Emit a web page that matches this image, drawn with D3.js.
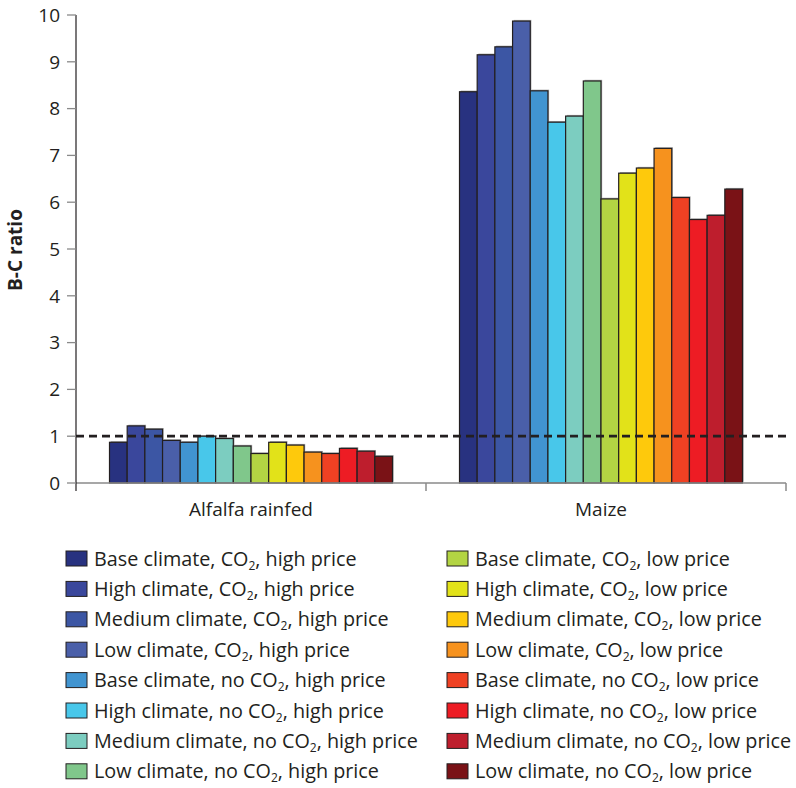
<!DOCTYPE html>
<html>
<head>
<meta charset="utf-8">
<script src="https://cdn.jsdelivr.net/npm/d3@7"></script>
<style>
  html, body { margin: 0; padding: 0; background: #fff; }
  svg text { font-family: "Open Sans", "Noto Sans", sans-serif; fill: #231f20; }
</style>
</head>
<body>
<svg id="chart" width="796" height="788"></svg>
<script>
// ---- data ----
const categories = ["Alfalfa rainfed", "Maize"];
const scenarios = [
  "Base climate, CO2, high price",
  "High climate, CO2, high price",
  "Medium climate, CO2, high price",
  "Low climate, CO2, high price",
  "Base climate, no CO2, high price",
  "High climate, no CO2, high price",
  "Medium climate, no CO2, high price",
  "Low climate, no CO2, high price",
  "Base climate, CO2, low price",
  "High climate, CO2, low price",
  "Medium climate, CO2, low price",
  "Low climate, CO2, low price",
  "Base climate, no CO2, low price",
  "High climate, no CO2, low price",
  "Medium climate, no CO2, low price",
  "Low climate, no CO2, low price"
];
const alfalfaValues = [0.87, 1.22, 1.15, 0.91, 0.87, 1.00, 0.95, 0.79, 0.63, 0.87, 0.81, 0.66, 0.63, 0.74, 0.68, 0.57];
const maizeValues   = [8.36, 9.15, 9.32, 9.87, 8.38, 7.71, 7.84, 8.59, 6.07, 6.62, 6.73, 7.15, 6.10, 5.63, 5.72, 6.28];
const colors = ["#283280", "#3a479c", "#3c56a4", "#4a5fa9", "#4194d0", "#48c7ea", "#7ccdc0", "#80c78b",
                "#b3d443", "#e2e219", "#fec90c", "#f6921e", "#ef4123", "#ed1c24", "#be1e2d", "#7a1216"];
const yTicks = [0, 1, 2, 3, 4, 5, 6, 7, 8, 9, 10];
const threshold = 1;
const yLabel = "B-C ratio";

const seriesByCategory = [alfalfaValues, maizeValues];
const table = categories.map((c, ci) => ({
  category: c,
  values: scenarios.map((s, si) => ({ scenario: s, idx: si, value: seriesByCategory[ci][si] }))
}));

// ---- layout ----
const svg = d3.select("#chart");
const axisLeftX = 76, axisRightX = 786;
const y = d3.scaleLinear().domain([0, 10]).range([483, 15]);
const x0 = d3.scaleBand().domain(categories).range([axisLeftX, 776]).paddingInner(0).paddingOuter(0);
const x1 = d3.scaleBand().domain(d3.range(scenarios.length)).range([0, 283]);
const groupOffset = (x0.bandwidth() - 283) / 2;

// bars
const groups = svg.append("g").selectAll("g").data(table).join("g")
  .attr("transform", d => `translate(${x0(d.category) + groupOffset},0)`);

// subtle shadow
groups.selectAll("rect.shadow").data(d => d.values).join("rect")
  .attr("class", "shadow")
  .attr("x", d => x1(d.idx) + 1.2)
  .attr("y", d => y(d.value) - 1.2)
  .attr("width", x1.bandwidth())
  .attr("height", d => y(0) - y(d.value))
  .attr("fill", "#b0b0b0");

groups.selectAll("rect.bar").data(d => d.values).join("rect")
  .attr("class", "bar")
  .attr("x", d => x1(d.idx))
  .attr("y", d => y(d.value))
  .attr("width", x1.bandwidth())
  .attr("height", d => y(0) - y(d.value))
  .attr("fill", d => colors[d.idx])
  .attr("stroke", "#231f20")
  .attr("stroke-width", 1.2);

// x axis
const xAxisG = svg.append("g");
xAxisG.append("line")
  .attr("x1", axisLeftX).attr("x2", axisRightX)
  .attr("y1", y(0)).attr("y2", y(0))
  .attr("stroke", "#8a8a8a").attr("stroke-width", 1.5);
const boundaries = [x0(categories[1]), axisRightX];
xAxisG.selectAll("line.tick").data(boundaries).join("line")
  .attr("class", "tick")
  .attr("x1", d => d).attr("x2", d => d)
  .attr("y1", y(0)).attr("y2", y(0) + 8)
  .attr("stroke", "#8a8a8a").attr("stroke-width", 1.5);
xAxisG.selectAll("text").data(categories).join("text")
  .attr("x", d => x0(d) + x0.bandwidth() / 2)
  .attr("y", 516)
  .attr("text-anchor", "middle")
  .attr("font-size", 19)
  .text(d => d);

// y axis
const yAxisG = svg.append("g").attr("transform", `translate(${axisLeftX},0)`);
yAxisG.append("line")
  .attr("x1", 0).attr("x2", 0)
  .attr("y1", y(10)).attr("y2", y(0) + 8)
  .attr("stroke", "#231f20").attr("stroke-width", 1.2);
const yt = yAxisG.selectAll("g.tick").data(yTicks).join("g")
  .attr("class", "tick")
  .attr("transform", d => `translate(0,${y(d)})`);
yt.append("line").attr("x1", -9).attr("x2", 0).attr("stroke", "#8a8a8a").attr("stroke-width", 1.3);
yt.append("text")
  .attr("x", -16).attr("dy", "0.36em")
  .attr("text-anchor", "end")
  .attr("font-size", 19)
  .text(d => d);

svg.append("text")
  .attr("transform", `translate(22,250) rotate(-90)`)
  .attr("text-anchor", "middle")
  .attr("font-size", 19)
  .attr("font-weight", "bold")
  .text(yLabel);

// threshold dashed line
svg.append("line")
  .attr("x1", axisLeftX).attr("x2", axisRightX)
  .attr("y1", y(threshold)).attr("y2", y(threshold))
  .attr("stroke", "#231f20").attr("stroke-width", 2.8)
  .attr("stroke-dasharray", "8,5");

// legend
const legend = svg.append("g");
const colX = [66, 447];
const rowY0 = 551, rowH = 30.4;
const items = legend.selectAll("g").data(scenarios).join("g")
  .attr("transform", (d, i) => `translate(${colX[Math.floor(i / 8)]},${rowY0 + (i % 8) * rowH})`);
items.append("rect")
  .attr("width", 21).attr("height", 15)
  .attr("fill", (d, i) => colors[i])
  .attr("stroke", "#231f20").attr("stroke-width", 1);
items.each(function(d) {
  const t = d3.select(this).append("text")
    .attr("x", 28).attr("y", 14.5)
    .attr("font-size", 19.8);
  const parts = d.split("CO2");
  t.append("tspan").text(parts[0] + "CO");
  t.append("tspan").attr("font-size", 12).attr("dy", 4).text("2");
  t.append("tspan").attr("dy", -4).text(parts[1]);
});
</script>
</body>
</html>
